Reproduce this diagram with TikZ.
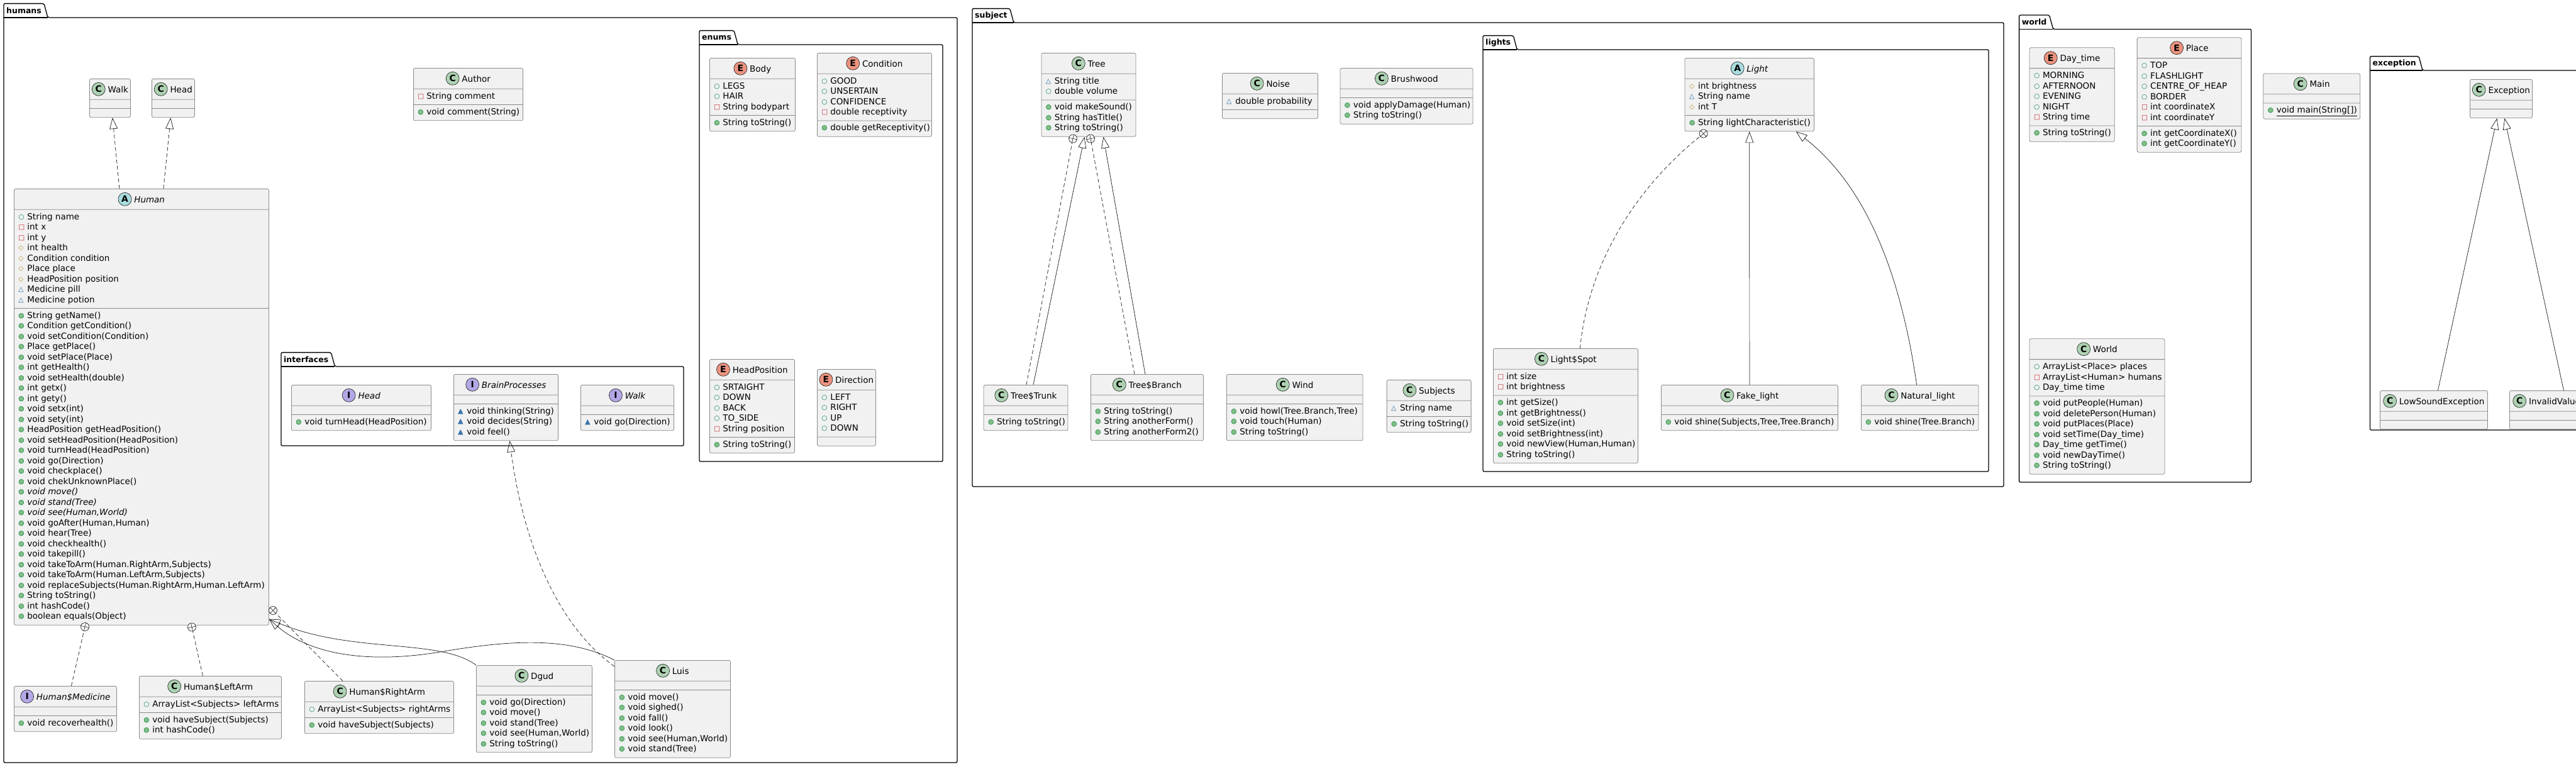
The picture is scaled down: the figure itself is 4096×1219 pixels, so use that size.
\documentclass[tikz,border=0pt]{standalone}
\usepackage{fontspec}
\setmainfont{DejaVu Sans}
\usepackage{xcolor}
\usepackage{tikz}
\usetikzlibrary{shapes.multipart,arrows.meta}

\definecolor{boxfill}{HTML}{F1F1F1}
\definecolor{boxline}{HTML}{8A8A8A}
\definecolor{umlline}{HTML}{181818}
\definecolor{clsC}{HTML}{ADD1B2}
\definecolor{clsA}{HTML}{A9DCDF}
\definecolor{clsI}{HTML}{B4A7E5}
\definecolor{clsE}{HTML}{EB937F}
\definecolor{publine}{HTML}{038048}
\definecolor{pubfill}{HTML}{84BE84}
\definecolor{priline}{HTML}{C82930}
\definecolor{proline}{HTML}{B38D22}
\definecolor{pkgline}{HTML}{1963A0}
\definecolor{pkgfill}{HTML}{4177AF}

\newcommand\umlfont{\fontsize{13.5}{16.5}\selectfont}
% visibility marks in front of members
\newcommand\vico[1]{\hspace*{5pt}\makebox[14pt][l]{\raisebox{1pt}{\fontsize{10.5}{10.5}\selectfont#1}}\strut}
\newcommand\fpub{\vico{\textcolor{publine}{○}}}
\newcommand\mpub{\vico{\rlap{\textcolor{pubfill}{●}}\textcolor{publine}{○}}}
\newcommand\fpri{\vico{\textcolor{priline}{□}}}
\newcommand\fpro{\vico{\textcolor{proline}{◇}}}
\newcommand\fpkg{\vico{\textcolor{pkgline}{△}}}
\newcommand\mpkg{\vico{\rlap{\textcolor{pkgfill}{▲}}\textcolor{pkgline}{△}}}
% class headers
\newcommand\hicon[2]{\tikz[baseline={(0pt,-5.5pt)}]\node[circle,anchor=center,draw=umlline,line width=0.6pt,fill=#2,minimum size=21pt,inner sep=0pt,font=\bfseries\fontsize{14}{14}\selectfont]{#1};}
\newcommand\hstrut{\rule[-6.5pt]{0pt}{24pt}}
\newcommand\ccls[1]{\hicon{C}{clsC}\hspace{4pt}#1\hstrut}
\newcommand\cabs[1]{\hicon{A}{clsA}\hspace{4pt}\textit{#1}\hstrut}
\newcommand\cint[1]{\hicon{I}{clsI}\hspace{4pt}\textit{#1}\hstrut}
\newcommand\cenum[1]{\hicon{E}{clsE}\hspace{4pt}#1\hstrut}

\tikzset{
  umlclass/.style={rectangle split, rectangle split parts=3,
    rectangle split part align={center,left,left},
    rectangle split empty part height=0pt, rectangle split empty part depth=0pt,
    rectangle split empty part width=0pt,
    draw=boxline, fill=boxfill, line width=0.8pt, rounded corners=2.5pt,
    inner xsep=2pt, inner ysep=4pt, align=left, font=\umlfont,
    anchor=north west, minimum width=#1pt},
  pkgtab/.style={anchor=south west, inner xsep=4pt, inner ysep=0pt,
    minimum height=22pt, font=\bfseries\fontsize{12.5}{14}\selectfont},
  pkgframe/.style={draw=black, line width=1.3pt, rounded corners=2pt},
  extend/.style={draw=umlline, line width=0.7pt, -{Triangle[open,length=18pt,width=13pt]}},
  realize/.style={extend, dash pattern=on 6pt off 4pt},
  nest/.style={draw=umlline, line width=0.7pt, dash pattern=on 6pt off 4pt},
  nestmark/.style={circle, draw=umlline, fill=white, line width=0.7pt, minimum size=13pt, inner sep=0pt},
}

\begin{document}
\begin{tikzpicture}[x=1pt,y=-1pt]
\useasboundingbox (0,0) rectangle (4096,1219);
\clip (0,0) rectangle (4096,1219);

% packages
\node[pkgtab] (humansTab) at (6,28) {humans};
\draw[pkgframe] (humansTab.south west) |- (humansTab.north east) -- ([xshift=6pt]humansTab.south east) -- (1522,28) -- (1522,1213) -- (6,1213) -- cycle;
\draw[pkgframe] (humansTab.south west) -- ([xshift=6pt]humansTab.south east);

\node[pkgtab] (enumsTab) at (1112,71) {enums};
\draw[pkgframe] (enumsTab.south west) |- (enumsTab.north east) -- ([xshift=6pt]enumsTab.south east) -- (1499,71) -- (1499,734) -- (1112,734) -- cycle;
\draw[pkgframe] (enumsTab.south west) -- ([xshift=6pt]enumsTab.south east);

\node[pkgtab] (interfacesTab) at (447,583) {interfaces};
\draw[pkgframe] (interfacesTab.south west) |- (interfacesTab.north east) -- ([xshift=6pt]interfacesTab.south east) -- (1087,583) -- (1087,709) -- (447,709) -- cycle;
\draw[pkgframe] (interfacesTab.south west) -- ([xshift=6pt]interfacesTab.south east);

\node[pkgtab] (subjectTab) at (1546,36) {subject};
\draw[pkgframe] (subjectTab.south west) |- (subjectTab.north east) -- ([xshift=6pt]subjectTab.south east) -- (3186,36) -- (3186,774) -- (1546,774) -- cycle;
\draw[pkgframe] (subjectTab.south west) -- ([xshift=6pt]subjectTab.south east);

\node[pkgtab] (lightsTab) at (2358,79) {lights};
\draw[pkgframe] (lightsTab.south west) |- (lightsTab.north east) -- ([xshift=6pt]lightsTab.south east) -- (3162,79) -- (3162,750) -- (2358,750) -- cycle;
\draw[pkgframe] (lightsTab.south west) -- ([xshift=6pt]lightsTab.south east);

\node[pkgtab] (worldTab) at (3210.6,46.4) {world};
\draw[pkgframe] (worldTab.south west) |- (worldTab.north east) -- ([xshift=6pt]worldTab.south east) -- (3579.5,46.4) -- (3579.5,767) -- (3210.6,767) -- cycle;
\draw[pkgframe] (worldTab.south west) -- ([xshift=6pt]worldTab.south east);

\node[pkgtab] (exceptionTab) at (3768.5,112) {exception};
\draw[pkgframe] (exceptionTab.south west) |- (exceptionTab.north east) -- ([xshift=6pt]exceptionTab.south east) -- (4200,112) -- (4200,684) -- (3768.5,684) -- cycle;
\draw[pkgframe] (exceptionTab.south west) -- ([xshift=6pt]exceptionTab.south east);

% humans
\node[umlclass=65] (walkC) at (142,125) {\ccls{Walk}\nodepart{two}\nodepart{three}};
\node[umlclass=68] (headC) at (241,125) {\ccls{Head}\nodepart{two}\nodepart{three}};
\node[umlclass=174] (author) at (657,108) {\ccls{Author}\nodepart{two}\fpri String comment\nodepart{three}\mpub void comment(String)};
\node[umlclass=405] (human) at (22,300) {\cabs{Human}
  \nodepart{two}\fpub String name\\ \fpri int x\\ \fpri int y\\ \fpro int health\\
  \fpro Condition condition\\ \fpro Place place\\ \fpro HeadPosition position\\
  \fpkg Medicine pill\\ \fpkg Medicine potion
  \nodepart{three}\mpub String getName()\\ \mpub Condition getCondition()\\
  \mpub void setCondition(Condition)\\ \mpub Place getPlace()\\ \mpub void setPlace(Place)\\
  \mpub int getHealth()\\ \mpub void setHealth(double)\\ \mpub int getx()\\ \mpub int gety()\\
  \mpub void setx(int)\\ \mpub void sety(int)\\ \mpub HeadPosition getHeadPosition()\\
  \mpub void setHeadPosition(HeadPosition)\\ \mpub void turnHead(HeadPosition)\\
  \mpub void go(Direction)\\ \mpub void checkplace()\\ \mpub void chekUnknownPlace()\\
  \mpub \textit{void move()}\\ \mpub \textit{void stand(Tree)}\\ \mpub \textit{void see(Human,World)}\\
  \mpub void goAfter(Human,Human)\\ \mpub void hear(Tree)\\ \mpub void checkhealth()\\
  \mpub void takepill()\\ \mpub void takeToArm(Human.RightArm,Subjects)\\
  \mpub void takeToArm(Human.LeftArm,Subjects)\\
  \mpub void replaceSubjects(Human.RightArm,Human.LeftArm)\\
  \mpub String toString()\\ \mpub int hashCode()\\ \mpub boolean equals(Object)};
\node[umlclass=163] (medicine) at (22,1091) {\cint{Human\$Medicine}\nodepart{two}\nodepart{three}\mpub void recoverhealth()};
\node[umlclass=226] (leftArm) at (221,1075) {\ccls{Human\$LeftArm}\nodepart{two}\fpub ArrayList<Subjects> leftArms
  \nodepart{three}\mpub void haveSubject(Subjects)\\ \mpub int hashCode()};
\node[umlclass=237] (rightArm) at (484,1083) {\ccls{Human\$RightArm}\nodepart{two}\fpub ArrayList<Subjects> rightArms
  \nodepart{three}\mpub void haveSubject(Subjects)};
\node[umlclass=184] (dgud) at (757,1058) {\ccls{Dgud}\nodepart{two}\nodepart{three}\mpub void go(Direction)\\
  \mpub void move()\\ \mpub void stand(Tree)\\ \mpub void see(Human,World)\\ \mpub String toString()};
\node[umlclass=184] (luis) at (977,1050) {\ccls{Luis}\nodepart{two}\nodepart{three}\mpub void move()\\
  \mpub void sighed()\\ \mpub void fall()\\ \mpub void look()\\ \mpub void see(Human,World)\\ \mpub void stand(Tree)};

% humans.enums
\node[umlclass=136] (body) at (1128,92) {\cenum{Body}\nodepart{two}\fpub LEGS\\ \fpub HAIR\\ \fpri String bodypart
  \nodepart{three}\mpub String toString()};
\node[umlclass=182] (condition) at (1299,84) {\cenum{Condition}\nodepart{two}\fpub GOOD\\ \fpub UNSERTAIN\\
  \fpub CONFIDENCE\\ \fpri double receptivity\nodepart{three}\mpub double getReceptivity()};
\node[umlclass=135] (headPos) at (1128,571) {\cenum{HeadPosition}\nodepart{two}\fpub SRTAIGHT\\ \fpub DOWN\\
  \fpub BACK\\ \fpub TO\_SIDE\\ \fpri String position\nodepart{three}\mpub String toString()};
\node[umlclass=93] (direction) at (1299,587) {\cenum{Direction}\nodepart{two}\fpub LEFT\\ \fpub RIGHT\\
  \fpub UP\\ \fpub DOWN\nodepart{three}};

% humans.interfaces
\node[umlclass=222] (headI) at (463,612) {\cint{Head}\nodepart{two}\nodepart{three}\mpub void turnHead(HeadPosition)};
\node[umlclass=166] (brain) at (721,595) {\cint{BrainProcesses}\nodepart{two}\nodepart{three}\mpkg void thinking(String)\\
  \mpkg void decides(String)\\ \mpkg void feel()};
\node[umlclass=148] (walkI) at (923,612) {\cint{Walk}\nodepart{two}\nodepart{three}\mpkg void go(Direction)};

% subject
\node[umlclass=150] (tree) at (1655.5,84) {\ccls{Tree}\nodepart{two}\fpkg String title\\ \fpub double volume
  \nodepart{three}\mpub void makeSound()\\ \mpub String hasTitle()\\ \mpub String toString()};
\node[umlclass=152] (noise) at (1943,116) {\ccls{Noise}\nodepart{two}\fpkg double probability\nodepart{three}};
\node[umlclass=211] (brushwood) at (2130.5,108) {\ccls{Brushwood}\nodepart{two}\nodepart{three}\mpub void applyDamage(Human)\\
  \mpub String toString()};
\node[umlclass=134] (trunk) at (1563.6,612) {\ccls{Tree\$Trunk}\nodepart{two}\nodepart{three}\mpub String toString()};
\node[umlclass=179] (branch) at (1734,595) {\ccls{Tree\$Branch}\nodepart{two}\nodepart{three}\mpub String toString()\\
  \mpub String anotherForm()\\ \mpub String anotherForm2()};
\node[umlclass=216.6] (wind) at (1950,595) {\ccls{Wind}\nodepart{two}\nodepart{three}\mpub void howl(Tree.Branch,Tree)\\
  \mpub void touch(Human)\\ \mpub String toString()};
\node[umlclass=134] (subjects) at (2204.7,604) {\ccls{Subjects}\nodepart{two}\fpkg String name\nodepart{three}\mpub String toString()};

% subject.lights
\node[umlclass=205.4] (light) at (2678.6,92) {\cabs{Light}\nodepart{two}\fpro int brightness\\ \fpkg String name\\ \fpro int T
  \nodepart{three}\mpub String lightCharacteristic()};
\node[umlclass=230] (spot) at (2374,554) {\ccls{Light\$Spot}\nodepart{two}\fpri int size\\ \fpri int brightness
  \nodepart{three}\mpub int getSize()\\ \mpub int getBrightness()\\ \mpub void setSize(int)\\
  \mpub void setBrightness(int)\\ \mpub void newView(Human,Human)\\ \mpub String toString()};
\node[umlclass=281] (fakeLight) at (2641,612) {\ccls{Fake\_light}\nodepart{two}\nodepart{three}\mpub void shine(Subjects,Tree,Tree.Branch)};
\node[umlclass=186.5] (naturalLight) at (2959,612) {\ccls{Natural\_light}\nodepart{two}\nodepart{three}\mpub void shine(Tree.Branch)};

% world
\node[umlclass=135.3] (dayTime) at (3226.6,75.4) {\cenum{Day\_time}\nodepart{two}\fpub MORNING\\ \fpub AFTERNOON\\
  \fpub EVENING\\ \fpub NIGHT\\ \fpri String time\nodepart{three}\mpub String toString()};
\node[umlclass=165.8] (place) at (3397.7,59.4) {\cenum{Place}\nodepart{two}\fpub TOP\\ \fpub FLASHLIGHT\\
  \fpub CENTRE\_OF\_HEAP\\ \fpub BORDER\\ \fpri int coordinateX\\ \fpri int coordinateY
  \nodepart{three}\mpub int getCoordinateX()\\ \mpub int getCoordinateY()};
\node[umlclass=215] (world) at (3226.6,538.4) {\ccls{World}\nodepart{two}\fpub ArrayList<Place> places\\
  \fpri ArrayList<Human> humans\\ \fpub Day\_time time
  \nodepart{three}\mpub void putPeople(Human)\\ \mpub void deletePerson(Human)\\ \mpub void putPlaces(Place)\\
  \mpub void setTime(Day\_time)\\ \mpub Day\_time getTime()\\ \mpub void newDayTime()\\ \mpub String toString()};
\node[umlclass=154] (mainC) at (3598.4,116.5) {\ccls{Main}\nodepart{two}\nodepart{three}\mpub \underline{void main(String[])}};

% exception
\node[umlclass=99] (exception) at (3927,126) {\ccls{Exception}\nodepart{two}\nodepart{three}};
\node[umlclass=171] (lowSound) at (3784,621) {\ccls{LowSoundException}\nodepart{two}\nodepart{three}};
\node[umlclass=184] (invalidValue) at (3990,621) {\ccls{InvalidValueException}\nodepart{two}\nodepart{three}};

% nesting marks
\node[nestmark, rotate=-13] (nMed) at (135,997) {};
\node[nestmark, rotate=12] (nLeft) at (305,997.5) {};
\node[nestmark, rotate=44] (nRight) at (434,971) {};
\node[nestmark, rotate=-11] (nTrunk) at (1706,220.5) {};
\node[nestmark, rotate=10] (nBranch) at (1734,220.5) {};
\node[nestmark, rotate=-47] (nSpot) at (2708.6,212.5) {};
\foreach \m in {nMed,nLeft,nRight,nTrunk,nBranch,nSpot}
  \draw[umlline, line width=0.6pt] (\m.north) -- (\m.south) (\m.west) -- (\m.east);

% connectors
\draw[realize] ([xshift=-35pt]human.north) -- ([xshift=4pt]walkC.south);
\draw[realize] ([xshift=35pt]human.north) -- ([xshift=-4pt]headC.south);
\draw[nest] ([xshift=9.5pt]medicine.north) -- (nMed);
\draw[nest] ([xshift=-12pt]leftArm.north) -- (nLeft);
\draw[nest] ([xshift=-58pt]rightArm.north) -- (nRight);
\draw[extend] (dgud.north west) .. controls (700,1015) and (560,1040) .. ([yshift=10pt]human.south east);
\draw[extend] (luis.north west) .. controls (900,1010) and (800,1020) .. (700,1037)
  .. controls (560,1060) and (480,1030) .. ([yshift=10pt]human.south east);
\draw[realize] ([yshift=-10pt]luis.north west) .. controls (880,990) and (830,850) .. ([xshift=6pt]brain.south);

\draw[nest] ([xshift=1pt]trunk.north) -- (nTrunk);
\draw[extend] ([xshift=12pt]trunk.north) -- ([xshift=-6.5pt]tree.south);
\draw[nest] ([xshift=-20pt]branch.north) -- (nBranch);
\draw[extend] ([xshift=-3pt]branch.north) -- ([xshift=23.5pt]tree.south);

\draw[nest] ([xshift=23pt]spot.north) .. controls (2525,420) and (2600,300) .. (nSpot);
\draw[extend] (fakeLight.north) -- (light.south);
\draw[extend] ([xshift=-5pt]naturalLight.north) .. controls (3020,420) and (2960,290) .. ([xshift=74pt]light.south);

\draw[extend] ([xshift=6.5pt]lowSound.north) -- ([xshift=-6.5pt]exception.south);
\draw[extend] ([xshift=-6pt]invalidValue.north) -- ([xshift=5.5pt]exception.south);

\end{tikzpicture}
\end{document}
